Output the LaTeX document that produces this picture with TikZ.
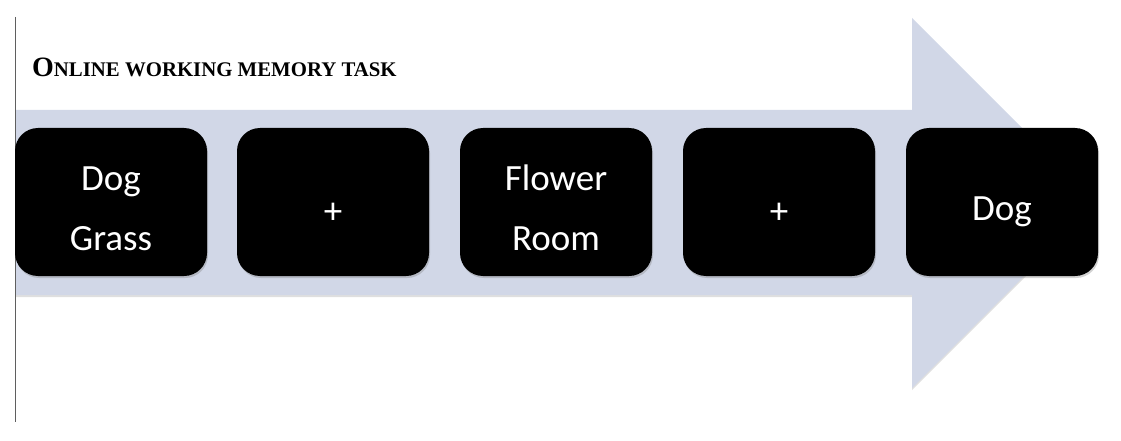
\documentclass[tikz,border=0pt]{standalone}
\usepackage{fontspec}
\setmainfont{Liberation Serif}
\newfontfamily\boxfont{Carlito}
\usetikzlibrary{shadows}
\definecolor{bandcol}{RGB}{209,215,231}
\definecolor{axiscol}{RGB}{95,95,95}
\tikzset{
  stepbox/.style={fill=black, draw=none, rounded corners=23pt, minimum width=192pt, minimum height=148pt,
    drop shadow={opacity=0.35, shadow xshift=1pt, shadow yshift=-2pt}},
  boxtext/.style={text=white, font=\boxfont\fontsize{37}{37}\selectfont, align=center, inner sep=0pt},
}
\begin{document}
\begin{tikzpicture}[x=1pt,y=-1pt]
\useasboundingbox (0,0) rectangle (1121,441);
% band arrow
\fill[bandcol, drop shadow={opacity=0.25, shadow xshift=0pt, shadow yshift=-2pt}]
  (15,110) -- (912,110) -- (912,18) -- (1097,203) -- (912,388) -- (912,295) -- (15,295) -- cycle;
% axis line
\coordinate (ltop) at (15.5,17);
\coordinate (lbot) at (15.5,422);
\draw[axiscol, line width=1.6pt] (ltop) -- (lbot);
% title
\node[anchor=base west, inner sep=0pt] (title) at (32,77)
  {\bfseries{\fontsize{28}{28}\selectfont O}{\fontsize{20.8}{20.8}\selectfont NLINE WORKING MEMORY TASK}};
% boxes
\node[stepbox] (b1) at (111,202) {};
\node[stepbox] (b2) at (333,202) {};
\node[stepbox] (b3) at (556,202) {};
\node[stepbox] (b4) at (779,202) {};
\node[stepbox] (b5) at (1002,202) {};
% texts
\node[boxtext, anchor=base] (t1a) at (111,190) {Dog};
\node[boxtext, anchor=base] (t1b) at (111,250) {Grass};
\node[boxtext] (t2) at (333,213) {+};
\node[boxtext, anchor=base] (t3a) at (556,190) {Flower};
\node[boxtext, anchor=base] (t3b) at (556,250) {Room};
\node[boxtext] (t4) at (779,213) {+};
\node[boxtext, anchor=base] (t5) at (1002,220) {Dog};
\end{tikzpicture}
\end{document}
